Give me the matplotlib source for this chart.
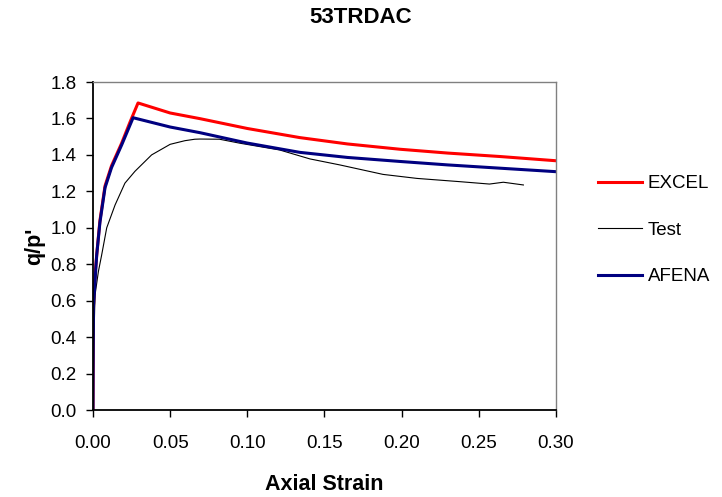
import matplotlib.pyplot as plt

plt.rcParams['font.family'] = ['Liberation Sans', 'DejaVu Sans']

# EXCEL model
excel_x = [0.0, 0.0003, 0.0013, 0.0025, 0.0045, 0.0078, 0.012, 0.0186, 0.024, 0.0292,
           0.05, 0.0693, 0.10, 0.134, 0.165, 0.199, 0.23, 0.264, 0.30]
excel_y = [0.0, 0.56, 0.74, 0.86, 1.04, 1.23, 1.34, 1.465, 1.58, 1.685,
           1.63, 1.599, 1.545, 1.495, 1.46, 1.431, 1.41, 1.391, 1.368]

# Test data
test_x = [0.0, 0.0005, 0.0013, 0.0035, 0.0056, 0.0089, 0.0143, 0.0207, 0.0272, 0.038,
          0.05, 0.0596, 0.066, 0.0693, 0.082, 0.0953, 0.121, 0.1406, 0.160, 0.188,
          0.210, 0.238, 0.257, 0.266, 0.279]
test_y = [0.0, 0.35, 0.63, 0.76, 0.85, 1.0, 1.125, 1.245, 1.31, 1.40,
          1.458, 1.478, 1.486, 1.487, 1.486, 1.464, 1.427, 1.378, 1.345, 1.293,
          1.271, 1.253, 1.240, 1.25, 1.235]

# AFENA model
afena_x = [0.0, 0.0002, 0.0024, 0.0045, 0.0078, 0.012, 0.0186, 0.026,
           0.05, 0.0693, 0.10, 0.134, 0.165, 0.199, 0.23, 0.264, 0.30]
afena_y = [0.0, 0.56, 0.85, 1.03, 1.22, 1.33, 1.455, 1.604,
           1.553, 1.522, 1.465, 1.414, 1.386, 1.364, 1.345, 1.327, 1.308]

xticks = [0, 0.05, 0.10, 0.15, 0.20, 0.25, 0.30]
xtick_labels = ['0.00', '0.05', '0.10', '0.15', '0.20', '0.25', '0.30']
yticks = [0.0, 0.2, 0.4, 0.6, 0.8, 1.0, 1.2, 1.4, 1.6, 1.8]
ytick_labels = ['0.0', '0.2', '0.4', '0.6', '0.8', '1.0', '1.2', '1.4', '1.6', '1.8']

fig = plt.figure(figsize=(7.22, 4.97), dpi=100)
ax = fig.add_axes([0.1288, 0.175, 0.641, 0.66])

ax.plot(excel_x, excel_y, color='#FF0000', lw=2.2, label='EXCEL')
ax.plot(test_x, test_y, color='black', lw=0.8, label='Test')
ax.plot(afena_x, afena_y, color='#000080', lw=2.2, label='AFENA')

ax.set_xlim(0, 0.30)
ax.set_ylim(0, 1.8)
ax.set_xticks(xticks)
ax.set_xticklabels(xtick_labels)
ax.set_yticks(yticks)
ax.set_yticklabels(ytick_labels)
ax.tick_params(labelsize=13.5, direction='out', length=5, width=1)
ax.tick_params(axis='x', pad=13)
ax.tick_params(axis='y', pad=7)

for s in ['left', 'bottom']:
    ax.spines[s].set_color('black')
    ax.spines[s].set_linewidth(1.3)
for s in ['top', 'right']:
    ax.spines[s].set_color('#808080')
    ax.spines[s].set_linewidth(1)

ax.set_xlabel('Axial Strain', fontsize=15.5, fontweight='bold', va='center')
ax.xaxis.set_label_coords(0.5, -0.226)
ax.set_ylabel("q/p'", fontsize=15.5, fontweight='bold', va='center', ha='center')
ax.yaxis.set_label_coords(-0.127, 0.5)
fig.text(0.5, 0.965, '53TRDAC', fontsize=16, fontweight='bold', ha='center', va='center')

fig.legend(loc='center left', bbox_to_anchor=(0.828, 0.537), frameon=False,
           fontsize=13.5, handlelength=2.35, handletextpad=0.3,
           labelspacing=1.57, borderpad=0, borderaxespad=0)

fig.savefig('out.png', dpi=100)
